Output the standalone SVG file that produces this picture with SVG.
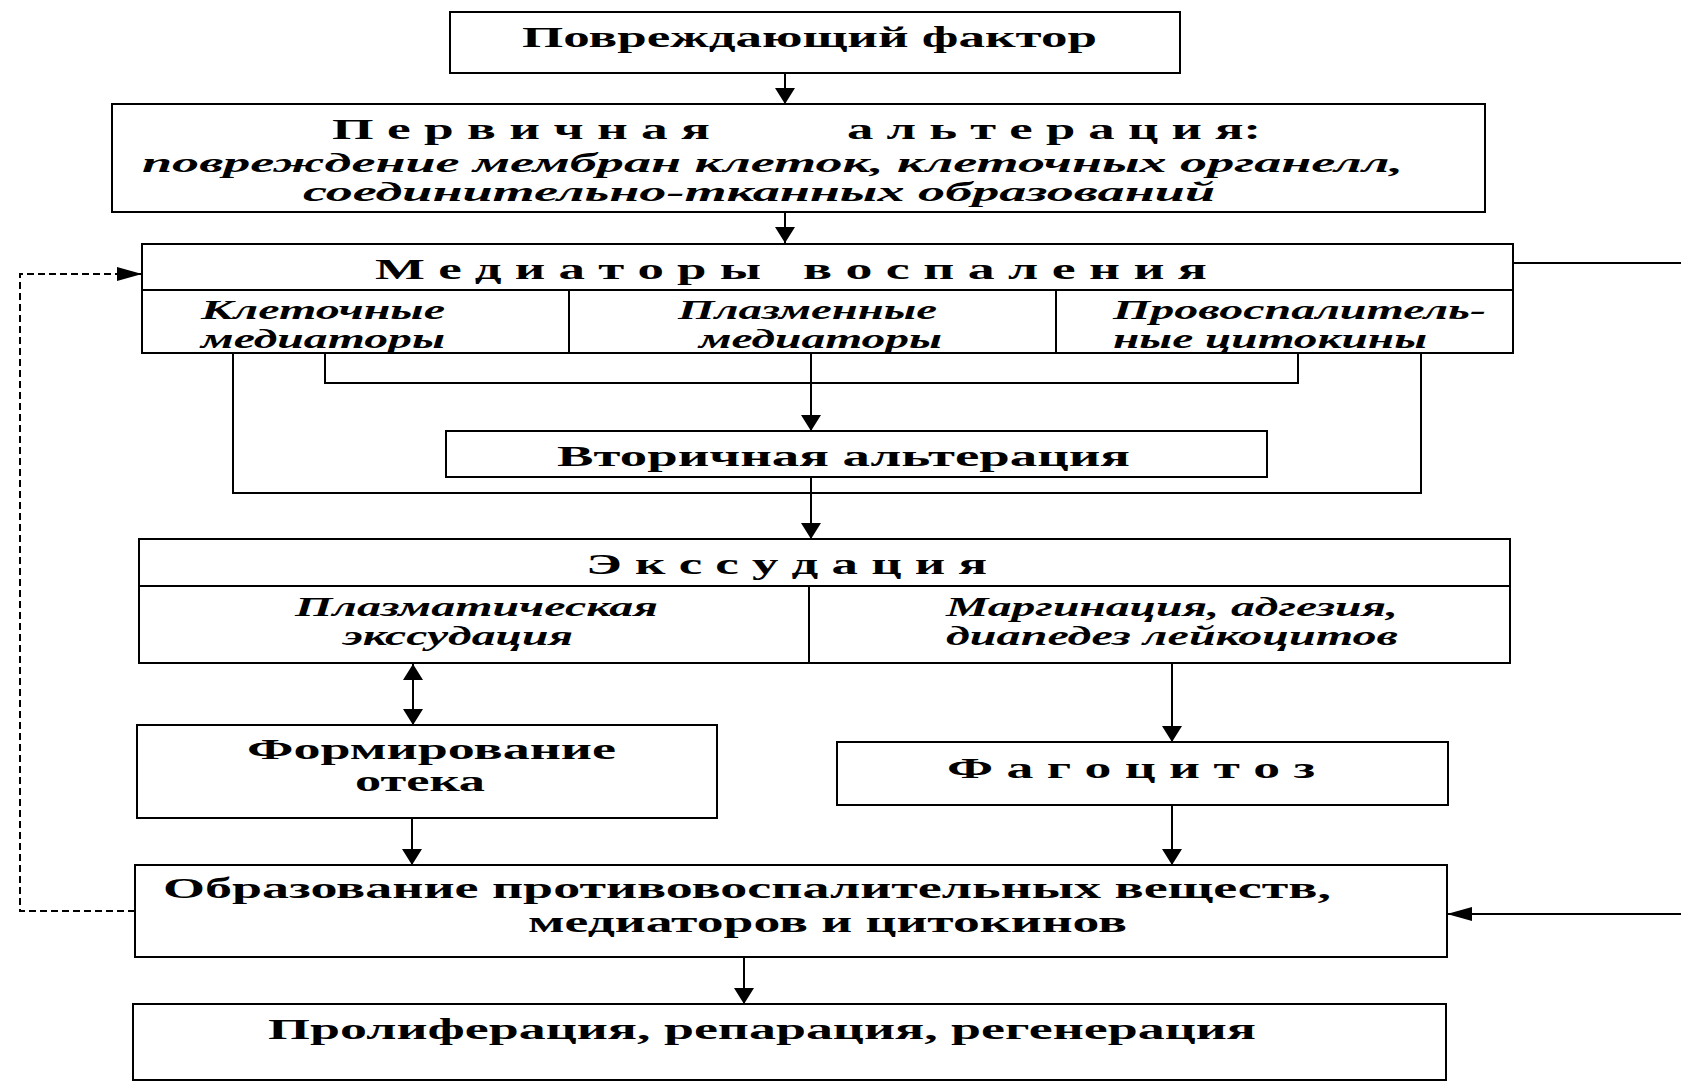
<svg xmlns="http://www.w3.org/2000/svg" width="1681" height="1081" viewBox="0 0 1681 1081">
<style>
.box{fill:#fff;stroke:#000;stroke-width:2}
.ln{fill:none;stroke:#000;stroke-width:2}
.dash{fill:none;stroke:#000;stroke-width:2;stroke-dasharray:7 4}
text{font-family:"Liberation Serif","Times New Roman",serif;font-weight:bold;font-size:29px;fill:#000}
.i{font-style:italic;font-size:27px}
</style>
<defs>
<marker id="av" markerUnits="userSpaceOnUse" viewBox="0 0 16 20" markerWidth="16" markerHeight="20" refX="16" refY="10" orient="auto-start-reverse"><path d="M0,0 L16,10 L0,20 z" fill="#000"/></marker>
<marker id="ah" markerUnits="userSpaceOnUse" viewBox="0 0 25 14" markerWidth="25" markerHeight="14" refX="25" refY="7" orient="auto-start-reverse"><path d="M0,0 L25,7 L0,14 z" fill="#000"/></marker>
</defs>
<rect width="1681" height="1081" fill="#fff"/>

<g id="connectors">
<path class="ln" d="M785,73 V104" marker-end="url(#av)"/>
<path class="ln" d="M785,212 V243" marker-end="url(#av)"/>
<path class="ln" d="M325,353 V383 H1298 V353"/>
<path class="ln" d="M233,353 V493 H1421 V353"/>
<path class="ln" d="M811,353 V431" marker-end="url(#av)"/>
<path class="ln" d="M811,477 V539" marker-end="url(#av)"/>
<path class="ln" d="M413,664 V725" marker-start="url(#av)" marker-end="url(#av)"/>
<path class="ln" d="M1172,663 V742" marker-end="url(#av)"/>
<path class="ln" d="M412,818 V865" marker-end="url(#av)"/>
<path class="ln" d="M1172,805 V865" marker-end="url(#av)"/>
<path class="ln" d="M744,957 V1004" marker-end="url(#av)"/>
<path class="dash" d="M135,911 H20 V274 H142" marker-end="url(#ah)"/>
<path class="ln" d="M1513,263 H1681"/>
<path class="ln" d="M1681,914 H1447" marker-end="url(#ah)"/>
</g>

<g id="damaging-factor">
<rect class="box" x="450" y="12" width="730" height="61"/>
<text x="522" y="47" textLength="575" lengthAdjust="spacingAndGlyphs">Повреждающий фактор</text>
</g>

<g id="primary-alteration">
<rect class="box" x="112" y="104" width="1373" height="108"/>
<text x="332" y="139" textLength="378" lengthAdjust="spacingAndGlyphs">П е р в и ч н а я</text>
<text x="847" y="139" textLength="414" lengthAdjust="spacingAndGlyphs">а л ь т е р а ц и я:</text>
<text class="i" x="142" y="172" textLength="1261" lengthAdjust="spacingAndGlyphs">повреждение мембран клеток, клеточных органелл,</text>
<text class="i" x="303" y="201" textLength="912" lengthAdjust="spacingAndGlyphs">соединительно-тканных образований</text>
</g>

<g id="mediators">
<rect class="box" x="142" y="244" width="1371" height="109"/>
<path class="ln" d="M142,290 H1513 M569,290 V353 M1056,290 V353"/>
<text x="375" y="279" textLength="386" lengthAdjust="spacingAndGlyphs">М е д и а т о р ы</text>
<text x="803" y="279" textLength="404" lengthAdjust="spacingAndGlyphs">в о с п а л е н и я</text>
<text class="i" x="201" y="319" textLength="244" lengthAdjust="spacingAndGlyphs">Клеточные</text>
<text class="i" x="201" y="348" textLength="244" lengthAdjust="spacingAndGlyphs">медиаторы</text>
<text class="i" x="678" y="319" textLength="259" lengthAdjust="spacingAndGlyphs">Плазменные</text>
<text class="i" x="699" y="348" textLength="243" lengthAdjust="spacingAndGlyphs">медиаторы</text>
<text class="i" x="1113" y="319" textLength="373" lengthAdjust="spacingAndGlyphs">Провоспалитель-</text>
<text class="i" x="1113" y="348" textLength="314" lengthAdjust="spacingAndGlyphs">ные цитокины</text>
</g>

<g id="secondary-alteration">
<rect class="box" x="446" y="431" width="821" height="46"/>
<text x="557" y="466" textLength="573" lengthAdjust="spacingAndGlyphs">Вторичная альтерация</text>
</g>

<g id="exudation">
<rect class="box" x="139" y="539" width="1371" height="124"/>
<path class="ln" d="M139,586 H1510 M809,586 V663"/>
<text x="586" y="574" textLength="401" lengthAdjust="spacingAndGlyphs">Э к с с у д а ц и я</text>
<text class="i" x="295" y="616" textLength="363" lengthAdjust="spacingAndGlyphs">Плазматическая</text>
<text class="i" x="343" y="645" textLength="230" lengthAdjust="spacingAndGlyphs">экссудация</text>
<text class="i" x="946" y="616" textLength="452" lengthAdjust="spacingAndGlyphs">Маргинация, адгезия,</text>
<text class="i" x="946" y="645" textLength="452" lengthAdjust="spacingAndGlyphs">диапедез лейкоцитов</text>
</g>

<g id="edema">
<rect class="box" x="137" y="725" width="580" height="93"/>
<text x="247" y="759" textLength="369" lengthAdjust="spacingAndGlyphs">Формирование</text>
<text x="355" y="791" textLength="130" lengthAdjust="spacingAndGlyphs">отека</text>
</g>

<g id="phagocytosis">
<rect class="box" x="837" y="742" width="611" height="63"/>
<text x="947" y="778" textLength="368" lengthAdjust="spacingAndGlyphs">Ф а г о ц и т о з</text>
</g>

<g id="anti-inflammatory">
<rect class="box" x="135" y="865" width="1312" height="92"/>
<text x="163" y="898" textLength="1168" lengthAdjust="spacingAndGlyphs">Образование противовоспалительных веществ,</text>
<text x="528" y="932" textLength="599" lengthAdjust="spacingAndGlyphs">медиаторов и цитокинов</text>
</g>

<g id="proliferation">
<rect class="box" x="133" y="1004" width="1313" height="76"/>
<text x="268" y="1039" textLength="988" lengthAdjust="spacingAndGlyphs">Пролиферация, репарация, регенерация</text>
</g>
</svg>
